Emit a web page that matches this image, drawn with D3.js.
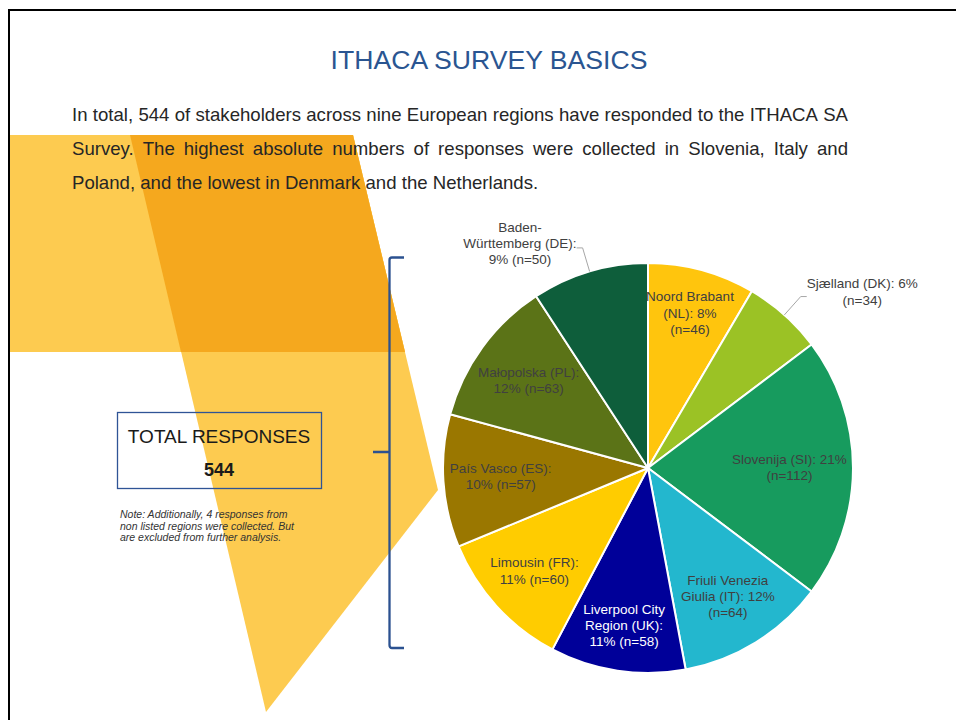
<!DOCTYPE html>
<meta charset="utf-8">
<style>
  body { margin: 0; background: #fff; }
  svg { display: block; font-family: "Liberation Sans", Arial, sans-serif; }
  .label { font-size: 13.5px; fill: #404040; }
  .intro { font-size: 18.6px; fill: #262626; }
  .note { font-size: 10.5px; font-style: italic; fill: #333; }
</style>
<body>
<script src="https://cdn.jsdelivr.net/npm/d3@7/dist/d3.min.js"></script>
<script>

// survey data, clockwise from 12 o'clock
var regions = ["Noord Brabant (NL)", "Sjælland (DK)", "Slovenija (SI)", "Friuli Venezia Giulia (IT)",
               "Liverpool City Region (UK)", "Limousin (FR)", "País Vasco (ES)", "Małopolska (PL)",
               "Baden-Württemberg (DE)"];
var responses = [46, 34, 112, 64, 58, 60, 57, 63, 50];
var sliceColors = ["#FFC50D", "#9BC225", "#179B5E", "#23B7CE", "#000099",
                   "#FFCC00", "#9A7700", "#5B7317", "#0E5E3B"];
var labelTemplates = [
  "Noord Brabant\n(NL): {p}%\n(n={n})",
  "Sjælland (DK): {p}%\n(n={n})",
  "Slovenija (SI): {p}%\n(n={n})",
  "Friuli Venezia\nGiulia (IT): {p}%\n(n={n})",
  "Liverpool City\nRegion (UK):\n{p}% (n={n})",
  "Limousin (FR):\n{p}% (n={n})",
  "País Vasco (ES):\n{p}% (n={n})",
  "Małopolska (PL):\n{p}% (n={n})",
  "Baden-\nWürttemberg (DE):\n{p}% (n={n})"
];
var outsideLabels = ["Sjælland (DK)", "Baden-Württemberg (DE)"];

var titleText = "ITHACA SURVEY BASICS";
var introLines = [
  "In total, 544 of stakeholders across nine European regions have responded to the ITHACA SA",
  "Survey. The highest absolute numbers of responses were collected in Slovenia, Italy and",
  "Poland, and the lowest in Denmark and the Netherlands."
];
var noteLines = [
  "Note: Additionally, 4 responses from",
  "non listed regions were collected. But",
  "are excluded from further analysis."
];

var width = 956, height = 720;
var total = d3.sum(responses);

var svg = d3.select("body").append("svg")
    .attr("width", width)
    .attr("height", height);

/*
** background decoration
*/
var lightOrange = "#FDCB50", darkOrange = "#F5A81E";
var deco = svg.append("g");
deco.append("polygon")
    .attr("points", "9,135 353,135 405,352 9,352")
    .attr("fill", lightOrange);
deco.append("polygon")
    .attr("points", "130,135 353,135 438,490 266,712")
    .attr("fill", lightOrange);
deco.append("polygon")
    .attr("points", "130,135 353,135 405,352 181,352")
    .attr("fill", darkOrange);

// frame
svg.append("path")
    .attr("d", "M9,720 V10 H956")
    .attr("fill", "none")
    .attr("stroke", "#000")
    .attr("stroke-width", 2);

// title
svg.append("text")
    .attr("x", 489)
    .attr("y", 69)
    .attr("text-anchor", "middle")
    .style("font-size", "26.6px")
    .style("fill", "#2A5591")
    .text(titleText);

// lay words out so a line fills the given width
function justified(g, words, x, y, w, cls) {
  var t = g.append("text").attr("class", cls);
  var widths = words.map(function(wd) {
    t.text(wd);
    return t.node().getComputedTextLength();
  });
  t.remove();
  var gap = (w - d3.sum(widths)) / (words.length - 1);
  var cx = x;
  words.forEach(function(wd, i) {
    g.append("text").attr("class", cls).attr("x", cx).attr("y", y).text(wd);
    cx += widths[i] + gap;
  });
}

var intro = svg.append("g");
introLines.forEach(function(line, i) {
  var y = 121 + i * 34;
  if (i < introLines.length - 1) {
    justified(intro, line.split(" "), 72, y, 776, "intro");
  } else {
    intro.append("text").attr("class", "intro").attr("x", 72).attr("y", y).text(line);
  }
});

/*
** total responses box
*/
svg.append("rect")
    .attr("x", 117.5).attr("y", 412.5)
    .attr("width", 204).attr("height", 76)
    .attr("fill", "none")
    .attr("stroke", "#2F5496")
    .attr("stroke-width", 1.3);
svg.append("text")
    .attr("x", 219).attr("y", 443)
    .attr("text-anchor", "middle")
    .style("font-size", "19px")
    .style("fill", "#1a1a1a")
    .text("TOTAL RESPONSES");
svg.append("text")
    .attr("x", 219).attr("y", 476)
    .attr("text-anchor", "middle")
    .style("font-size", "18px")
    .style("font-weight", "bold")
    .style("fill", "#1a1a1a")
    .text(total);

var note = svg.append("g");
noteLines.forEach(function(line, i) {
  note.append("text").attr("class", "note")
      .attr("x", 120).attr("y", 518 + i * 11.7)
      .text(line);
});

// bracket
svg.append("path")
    .attr("d", "M404,257.5 H392 Q389.5,257.5 389.5,260 V452 H373 M389.5,452 V645 Q389.5,648 392,648 H404")
    .attr("fill", "none")
    .attr("stroke", "#2B5190")
    .attr("stroke-width", 2.3);

/*
** pie
*/
var cx = 648, cy = 468, radius = 205;

var pie = d3.pie().sort(null).value(function(d) { return d; });
var arcs = pie(responses);
var arc = d3.arc().innerRadius(0).outerRadius(radius);

var pieG = svg.append("g").attr("transform", "translate(" + cx + "," + cy + ")");

pieG.selectAll("path.slice")
    .data(arcs)
    .enter().append("path")
    .attr("class", "slice")
    .attr("d", arc)
    .attr("fill", function(d, i) { return sliceColors[i]; })
    .attr("stroke", "#fff")
    .attr("stroke-width", 2)
    .attr("stroke-linejoin", "round");

function labelLines(i) {
  var p = Math.round(responses[i] / total * 100);
  return labelTemplates[i].replace("{p}", p).replace("{n}", responses[i]).split("\n");
}

var lineH = 16.2;

arcs.forEach(function(d, i) {
  var lines = labelLines(i);
  var mid = (d.startAngle + d.endAngle) / 2;
  var sx = Math.sin(mid), sy = -Math.cos(mid);
  var dark = d3.lab(sliceColors[i]).l < 30;
  var outside = outsideLabels.indexOf(regions[i]) >= 0;

  var t = pieG.append("text")
      .attr("class", "label")
      .attr("text-anchor", "middle")
      .style("fill", (dark && !outside) ? "#fff" : "#404040");
  lines.forEach(function(l) { t.append("tspan").text(l); });
  var w = d3.max(t.selectAll("tspan").nodes(), function(n) { return n.getComputedTextLength(); });
  var h = lines.length * lineH;

  var lx, ly;
  if (outside) {
    var e1 = radius, e2 = radius * 1.12;
    var ex = sx * e2, ey = sy * e2;
    var dir = sx >= 0 ? 1 : -1;
    var hx = ex + dir * 6;
    pieG.append("polyline")
        .attr("points", [[sx * e1, sy * e1], [ex, ey], [hx, ey]].map(function(p) { return p.join(","); }).join(" "))
        .attr("fill", "none")
        .attr("stroke", "#A6A6A6")
        .attr("stroke-width", 1);
    lx = hx + dir * w / 2;
    ly = ey - 4;
  } else {
    // pull the label in from 0.78r until its box sits inside the circle
    var k = 0.78;
    for (; k > 0.3; k -= 0.01) {
      var px = sx * radius * k, py = sy * radius * k;
      var fits = [[-1, -1], [1, -1], [-1, 1], [1, 1]].every(function(c) {
        var qx = px + c[0] * w / 2, qy = py + c[1] * h / 2;
        return Math.sqrt(qx * qx + qy * qy) <= radius - 5;
      });
      if (fits) break;
    }
    lx = sx * radius * k;
    ly = sy * radius * k;
  }

  var top = ly - h / 2;
  t.selectAll("tspan")
      .attr("x", lx)
      .attr("y", function(_, j) { return top + j * lineH + 12; });
});

</script>
</body>
